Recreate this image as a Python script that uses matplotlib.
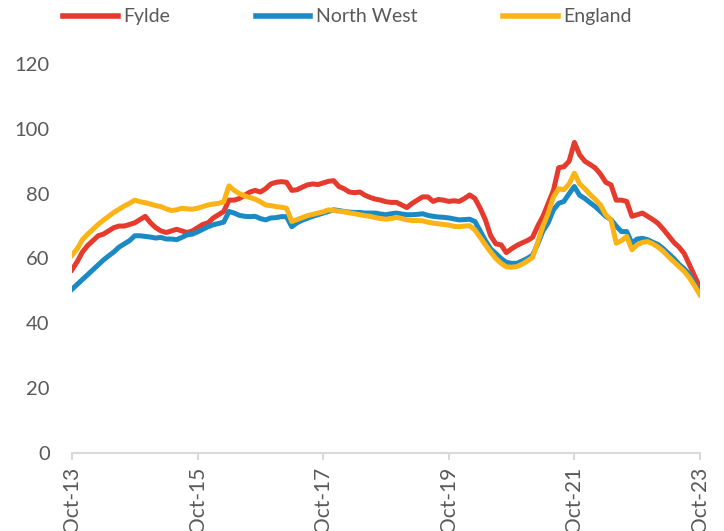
import matplotlib
matplotlib.use("Agg")
import matplotlib.pyplot as plt

plt.rcParams['font.family'] = ['Lato', 'DejaVu Sans']

# monthly values, Oct-13 .. Oct-23
fylde = [56.5, 59, 62, 64, 65.5, 67, 67.5, 68.5, 69.5, 70, 70, 70.5, 71, 72, 73, 71,
         69.5, 68.5, 68, 68.5, 69, 68.5, 68, 68.5, 69.5, 70.5, 71, 72.5, 73.5, 74.5,
         78, 78, 78.5, 79.5, 80.5, 81, 80.5, 81.5, 83, 83.5, 83.7, 83.5, 81, 81.2,
         82, 82.7, 83, 82.8, 83.3, 83.8, 84, 82.2, 81.5, 80.5, 80.3, 80.5, 79.5, 78.8,
         78.3, 78, 77.5, 77.3, 77.3, 76.5, 75.7, 77, 78, 79, 79, 77.6, 78.2, 78, 77.6,
         77.8, 77.6, 78.5, 79.6, 78.5, 75.5, 71.9, 67, 64.5, 64.2, 61.8, 63, 64, 64.8,
         65.5, 66.5, 70, 73, 77, 81, 88, 88.3, 90, 95.8, 92, 90, 89, 87.9, 86, 83.5,
         82.7, 78, 78, 77.6, 73, 73.5, 74, 73, 72, 70.8, 69, 67, 65, 63.5, 61.5, 58,
         54.5, 51]
north_west = [50.5, 52, 53.5, 55, 56.5, 58, 59.5, 60.8, 62, 63.5, 64.5, 65.5, 67, 67,
              66.8, 66.6, 66.3, 66.5, 66, 66, 65.8, 66.5, 67.3, 67.5, 68.2, 69, 69.8,
              70.4, 70.8, 71.2, 74.5, 74, 73.3, 73, 72.9, 73, 72.3, 71.9, 72.5, 72.6,
              72.9, 72.9, 69.8, 71, 71.8, 72.4, 73, 73.5, 74, 74.5, 75, 74.8, 74.5, 74.3,
              74.2, 74.2, 74, 74, 74, 73.7, 73.5, 73.8, 74, 73.7, 73.5, 73.5, 73.6, 73.8,
              73.3, 73, 72.8, 72.7, 72.5, 72.2, 71.9, 72, 72.1, 71.4, 68.5, 65.5, 63,
              61.5, 60, 58.8, 58.5, 58.5, 59.2, 60, 61, 64.5, 68.5, 71, 75, 77, 77.6, 80,
              82.2, 79.5, 78.5, 77.2, 76, 74.5, 73, 72, 70, 68.3, 68.3, 64.7, 66, 66.2,
              65.8, 65, 64.3, 63, 61.5, 60, 58.2, 56.8, 55, 52, 49.3]
england = [61, 63, 65.8, 67.5, 69, 70.5, 71.8, 73, 74.2, 75.2, 76.2, 77, 78, 77.5, 77.2,
           76.8, 76.3, 76, 75.3, 74.8, 75, 75.5, 75.3, 75.2, 75.5, 76, 76.5, 76.8, 77,
           77.5, 82.4, 81, 80, 79.3, 78.8, 78.3, 77.5, 76.5, 76.3, 76, 75.8, 75.5, 71.4,
           72, 72.6, 73.2, 73.6, 74, 74.4, 75, 74.8, 74.6, 74.4, 74.1, 73.8, 73.5, 73.2,
           73, 72.6, 72.3, 72.1, 72.3, 72.7, 72.3, 71.9, 71.7, 71.7, 71.6, 71.2, 70.9,
           70.7, 70.5, 70.3, 69.9, 69.8, 70, 70.1, 68.8, 66.5, 64.2, 62, 60, 58.5, 57.4,
           57.3, 57.5, 58.2, 59.2, 60.3, 65, 70, 74, 79, 81.5, 81.2, 83, 86.3, 83, 81.5,
           79.7, 78.2, 76.5, 73.5, 71.9, 64.7, 65.5, 66.8, 62.7, 64.2, 65, 65.2, 64.5,
           63.5, 62.2, 60.5, 59, 57.5, 56, 54, 51.5, 48.8]
months = list(range(len(fylde)))
tick_pos = [0, 24, 48, 72, 96, 120]
tick_labels = ["Oct-13", "Oct-15", "Oct-17", "Oct-19", "Oct-21", "Oct-23"]

fig = plt.figure(figsize=(7.24, 5.31), dpi=100)
ax = fig.add_axes([0.0994, 0.147, 0.8674, 0.7325])

ax.plot(months, fylde, color='#E53A2C', lw=3.6, label='Fylde', solid_joinstyle='round')
ax.plot(months, north_west, color='#1B8AC4', lw=3.6, label='North West', solid_joinstyle='round')
ax.plot(months, england, color='#FBB316', lw=3.6, label='England', solid_joinstyle='round')

ax.set_xlim(0, 120)
ax.set_ylim(0, 120)
ax.set_yticks(range(0, 121, 20))
ax.set_xticks(tick_pos)
ax.set_xticklabels(tick_labels, rotation=90)

for s in ['top', 'right', 'left']:
    ax.spines[s].set_visible(False)
ax.spines['bottom'].set_color('#D9D9D9')
ax.spines['bottom'].set_linewidth(1.5)
ax.tick_params(axis='y', length=0, pad=16, labelsize=14.5, labelcolor='#595959')
ax.tick_params(axis='x', length=5, width=1.5, color='#D9D9D9', pad=5,
               labelsize=15, labelcolor='#595959')

leg = fig.legend(loc='center', bbox_to_anchor=(0.48, 0.968), ncol=3, frameon=False,
                 fontsize=14, handlelength=2.8, handletextpad=0.3, columnspacing=4.4)
for t in leg.get_texts():
    t.set_color('#595959')
for h in leg.get_lines():
    h.set_linewidth(4)

fig.savefig('out.png', dpi=100)
